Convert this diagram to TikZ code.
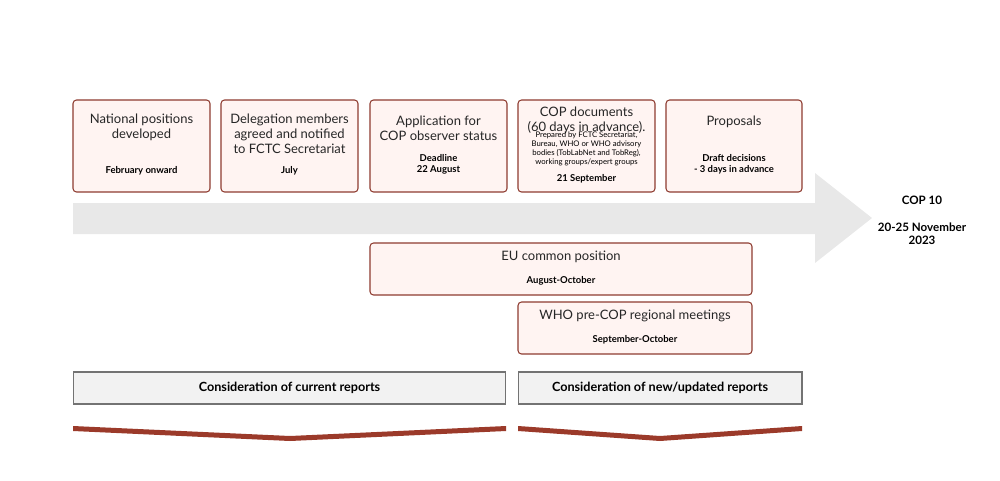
\documentclass[tikz,border=0pt]{standalone}
\usepackage{fontspec}
\setmainfont{Lato}
\usetikzlibrary{positioning}
\definecolor{boxline}{HTML}{8E3B30}
\definecolor{boxfill}{HTML}{FFF4F2}
\definecolor{band}{HTML}{E8E8E8}
\definecolor{chev}{HTML}{9B3A2A}
\tikzset{
  stage/.style={draw=boxline,fill=boxfill,rounded corners=2pt,line width=0.6pt,inner sep=0pt},
  head/.style={font=\fontsize{7.4}{8.4}\selectfont,align=center,text=black!85},
  when/.style={font=\bfseries\fontsize{5.4}{6.4}\selectfont,align=center},
  report/.style={draw=black!55,fill=black!5,line width=0.6pt,font=\bfseries\fontsize{7.2}{8}\selectfont,inner sep=0pt}
}
\begin{document}
\begin{tikzpicture}[x=0.02cm,y=-0.02cm]
\useasboundingbox (0,0) rectangle (1000,480);
% timeline arrow
\fill[band] (73,203) -- (815,203) -- (815,173) -- (872,218) -- (815,263) -- (815,234) -- (73,234) -- cycle;
\node[font=\bfseries\fontsize{6.6}{8.2}\selectfont,align=center] (cop) at (922,200) {COP 10};
\node[font=\bfseries\fontsize{6.6}{7.4}\selectfont,align=center] (dates) at (922,234) {20-25 November\\2023};
% upper stages
\draw[stage] (73,100) rectangle (210,192);
\draw[stage] (221,100) rectangle (358,192);
\draw[stage] (370,100) rectangle (507,192);
\draw[stage] (518,100) rectangle (655,192);
\draw[stage] (666,100) rectangle (802,192);
\node[head] (nat) at (141.5,127) {National positions\\developed};
\node[when] (natw) at (141.5,171) {February onward};
\node[head] (del) at (289.5,134) {Delegation members\\agreed and notified\\to FCTC Secretariat};
\node[when] (delw) at (289.5,171) {July};
\node[head] (app) at (438.5,128) {Application for\\COP observer status};
\node[when] (appw) at (438.5,164) {Deadline\\22 August};
\node[head] (doc) at (586.5,120) {COP documents\\(60 days in advance).};
\node[font=\fontsize{4.4}{5}\selectfont,align=center] (docs) at (586.5,149) {Prepared by FCTC Secretariat,\\Bureau, WHO or WHO advisory\\bodies (TobLabNet and TobReg),\\working groups/expert groups};
\node[when] (docw) at (586.5,179) {21 September};
\node[head] (pro) at (734,122) {Proposals};
\node[when] (prow) at (734,164) {Draft decisions\\- 3 days in advance};
% lower stages
\draw[stage] (370,243) rectangle (752,295);
\node[head] (eu) at (561,257) {EU common position};
\node[when] (euw) at (561,281) {August-October};
\draw[stage] (518,302) rectangle (752,354);
\node[head] (who) at (635,316) {WHO pre-COP regional meetings};
\node[when] (whow) at (635,340) {September-October};
% reports
\node[report,minimum width=8.66cm,minimum height=0.64cm] (cur) at (289.5,388) {Consideration of current reports};
\node[report,minimum width=5.68cm,minimum height=0.64cm] (new) at (660,388) {Consideration of new/updated reports};
\fill[chev] (73,426) -- (290,436) -- (506,426) -- (506,431) -- (290,441) -- (73,431) -- cycle;
\fill[chev] (518,426) -- (660,436) -- (802,426) -- (802,431) -- (660,441) -- (518,431) -- cycle;
\end{tikzpicture}
\end{document}
